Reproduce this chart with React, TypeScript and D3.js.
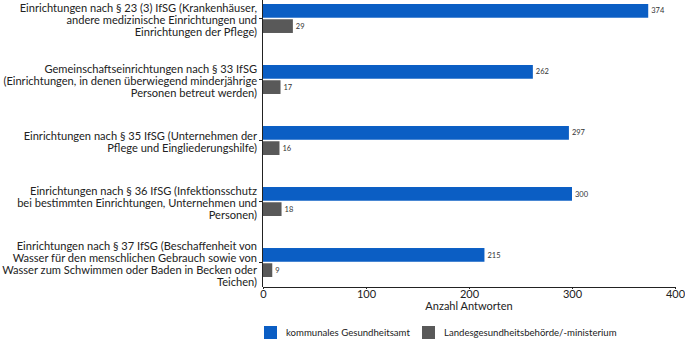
import * as d3 from "d3";
import { useRef, useEffect } from "react";

const categories = ["§ 23 (3)", "§ 33", "§ 35", "§ 36", "§ 37"];
const categoryLines = [
  ["Einrichtungen nach § 23 (3) IfSG (Krankenhäuser,", "andere medizinische Einrichtungen und", "Einrichtungen der Pflege)"],
  ["Gemeinschaftseinrichtungen nach § 33 IfSG", "(Einrichtungen, in denen überwiegend minderjährige", "Personen betreut werden)"],
  ["Einrichtungen nach § 35 IfSG (Unternehmen der", "Pflege und Eingliederungshilfe)"],
  ["Einrichtungen nach § 36 IfSG (Infektionsschutz", "bei bestimmten Einrichtungen, Unternehmen und", "Personen)"],
  ["Einrichtungen nach § 37 IfSG (Beschaffenheit von", "Wasser für den menschlichen Gebrauch sowie von", "Wasser zum Schwimmen oder Baden in Becken oder", "Teichen)"],
];
const seriesNames = ["kommunales Gesundheitsamt", "Landesgesundheitsbehörde/-ministerium"];
const kommunal = [374, 262, 297, 300, 215];
const landes = [29, 17, 16, 18, 9];
const xTicks = [0, 100, 200, 300, 400];
const axisTitle = "Anzahl Antworten";

export default function App() {
  const ref = useRef<SVGSVGElement>(null);

  useEffect(() => {
    const width = 685;
    const height = 341;
    const font = "Lato, 'Open Sans', sans-serif";
    const colors = ["#0b5ec4", "#595959"];

    const svg = d3.select(ref.current);
    svg.selectAll("*").remove();
    svg.attr("width", width).attr("height", height);

    const x = d3.scaleLinear().domain([0, 400]).range([263, 675]);
    const y = d3.scaleBand().domain(categories).range([4, 277]).paddingInner(0.525).paddingOuter(0);
    const inner = d3.scaleBand().domain(seriesNames).range([0, y.bandwidth()]).paddingInner(0.1);

    const rows = categories.map((c, i) => ({ c, vals: [kommunal[i], landes[i]] }));

    const g = svg.append("g");
    rows.forEach((r) => {
      r.vals.forEach((v, j) => {
        const yy = (y(r.c) as number) + (inner(seriesNames[j]) as number);
        g.append("rect")
          .attr("x", x(0))
          .attr("y", yy)
          .attr("width", x(v) - x(0))
          .attr("height", inner.bandwidth())
          .attr("fill", colors[j]);
        g.append("text")
          .attr("x", x(v) + 3)
          .attr("y", yy + inner.bandwidth() / 2)
          .attr("dy", "0.35em")
          .style("font-family", font)
          .style("font-size", "7.5px")
          .style("fill", "#333")
          .text(v);
      });
    });

    // y axis
    const yAxis = svg.append("g").attr("transform", `translate(${x(0)},0)`)
      .call(d3.axisLeft(y).tickSize(4).tickFormat(() => ""));
    yAxis.select(".domain").attr("d", `M-0.5,0V${287}`).attr("stroke", "#222");
    yAxis.selectAll(".tick line").attr("stroke", "#222");

    categories.forEach((c, i) => {
      const lines = categoryLines[i];
      const cy = (y(c) as number) + y.bandwidth() / 2;
      const lh = 12;
      const t = svg.append("text")
        .attr("text-anchor", "end")
        .style("font-family", font)
        .style("font-size", "11.1px")
        .style("fill", "#222");
      lines.forEach((l, k) => {
        t.append("tspan")
          .attr("x", 257)
          .attr("y", cy + 1.5 + (k - (lines.length - 1) / 2) * lh)
          .attr("dy", "0.35em")
          .text(l);
      });
    });

    // x axis
    const xAxis = svg.append("g").attr("transform", `translate(0,287)`)
      .call(d3.axisBottom(x).tickValues(xTicks).tickSize(2).tickPadding(1).tickFormat(d3.format("d")));
    xAxis.select(".domain").attr("stroke", "#222");
    xAxis.selectAll(".tick line").attr("stroke", "#222");
    xAxis.selectAll(".tick text")
      .style("font-family", font)
      .style("font-size", "11px")
      .style("fill", "#222");

    svg.append("text")
      .attr("x", x(200))
      .attr("y", 306)
      .attr("dy", "0.35em")
      .attr("text-anchor", "middle")
      .style("font-family", font)
      .style("font-size", "11px")
      .style("fill", "#222")
      .text(axisTitle);

    // legend
    const legendX = [264, 422];
    seriesNames.forEach((s, j) => {
      svg.append("rect")
        .attr("x", legendX[j])
        .attr("y", 326)
        .attr("width", 13)
        .attr("height", 13)
        .attr("fill", colors[j]);
      svg.append("text")
        .attr("x", legendX[j] + 22)
        .attr("y", 333)
        .attr("dy", "0.35em")
        .style("font-family", font)
        .style("font-size", "9.6px")
        .style("fill", "#222")
        .text(s);
    });
  }, []);

  return <svg ref={ref} style={{ position: "absolute", left: 0, top: 0 }}></svg>;
}
